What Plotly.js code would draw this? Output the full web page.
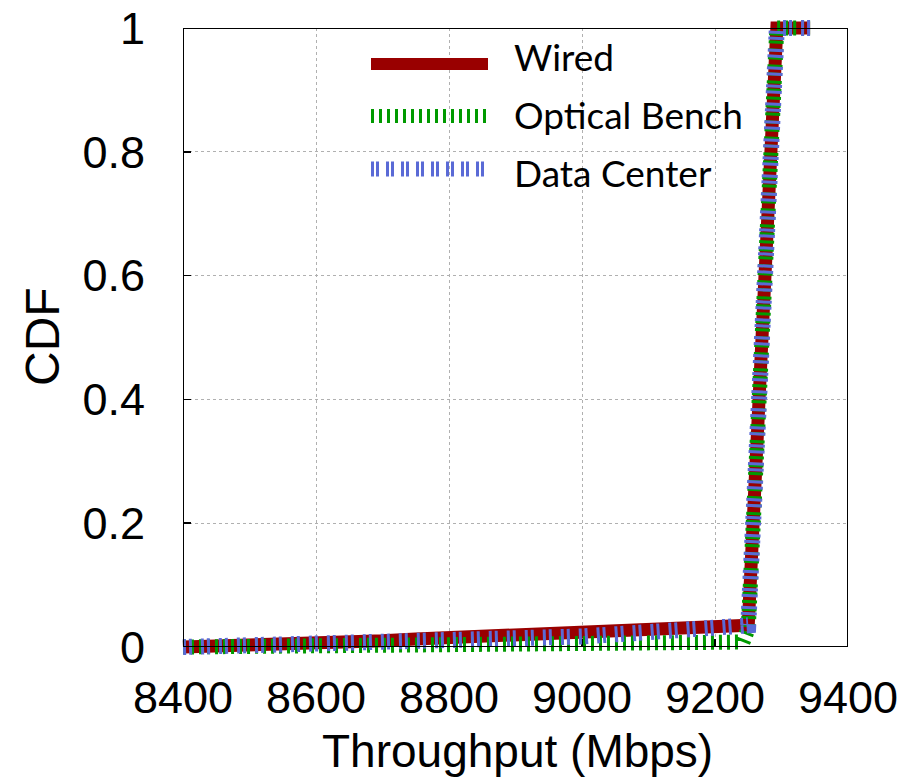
<!DOCTYPE html>
<html>
<head>
<meta charset="utf-8">
<script src="https://cdn.plot.ly/plotly-3.0.1.min.js"></script>
<style>html,body{margin:0;padding:0;background:#fff;}#chart{width:918px;height:781px;}</style>
</head>
<body>
<div id="chart"></div>
<script>
// ---- data ----
const seriesNames = ["Wired", "Optical Bench", "Data Center"];
const wiredX = [8400, 8500, 8600, 8650, 8700, 8750, 8800, 8850, 8900, 9000, 9100, 9200, 9245, 9250, 9293, 9343];
const wiredY = [0.000, 0.002, 0.004, 0.006, 0.010, 0.013, 0.015, 0.016, 0.018, 0.022, 0.025, 0.028, 0.030, 0.035, 1.000, 1.000];
const opticalX = [8400, 8600, 8800, 8900, 9000, 9100, 9200, 9242, 9250, 9293, 9343];
const opticalY = [0.000, 0.001, 0.002, 0.004, 0.005, 0.007, 0.008, 0.008, 0.030, 1.000, 1.000];
const dcX = [8400, 8500, 8600, 8700, 8800, 8900, 9000, 9100, 9200, 9245, 9250, 9293, 9345];
const dcY = [0.000, 0.002, 0.004, 0.006, 0.009, 0.012, 0.017, 0.024, 0.030, 0.032, 0.035, 1.000, 1.000];
const xTicks = [8400, 8600, 8800, 9000, 9200, 9400];
const yTicks = [0, 0.2, 0.4, 0.6, 0.8, 1];
const xTitle = "Throughput (Mbps)";
const yTitle = "CDF";

// ---- layout geometry ----
const W = 918, H = 781;
const L = 183, R = 848, T = 28, B = 647;
const PAD = 20;
const px = v => v / W;
const py = v => 1 - v / H;
const xMin = 8400, xMax = 9400, yMin = 0, yMax = 1;
const xPerPx = (xMax - xMin) / (R - L);
const yPerPx = (yMax - yMin) / (B - T);

const colors = ["#990000", "#009a00", "#5a6ad6"];
const fam = "'Liberation Sans', Arial, Helvetica, sans-serif";
const tickFont = {family: fam, size: 45, color: "#000"};
const xTitleFont = {family: fam, size: 46, color: "#000"};
const yTitleFont = {family: fam, size: 48, color: "#000"};
const legFont = {family: "Lato, 'Open Sans', sans-serif", size: 37, color: "#000"};

const traces = [
  {x: wiredX, y: wiredY, name: seriesNames[0], type: "scatter", mode: "lines",
   xaxis: "x2", yaxis: "y2", line: {color: colors[0], width: 13}},
  {x: opticalX, y: opticalY, name: seriesNames[1], type: "scatter", mode: "lines",
   xaxis: "x2", yaxis: "y2", line: {color: colors[1], width: 15, dash: "3px,5px"}},
  {x: dcX, y: dcY, name: seriesNames[2], type: "scatter", mode: "lines",
   xaxis: "x2", yaxis: "y2", line: {color: colors[2], width: 16, dash: "3px,3px,3px,9px"}}
];

const gridStyle = {showgrid: true, gridcolor: "#b0b0b0", griddash: "dot", gridwidth: 1};

const legRows = [64, 116, 169];
const legText = [57, 114, 172];
const legDash = ["solid", "3px,5px", "3px,2px,3px,7px"];
const legWidth = [12, 14, 15];

const shapes = [
  {type: "rect", xref: "paper", yref: "paper", x0: px(360), x1: px(508), y0: py(192), y1: py(38),
   fillcolor: "#fff", line: {width: 0}, layer: "between"}
];
legRows.forEach((r, i) => {
  shapes.push({type: "line", xref: "paper", yref: "paper", x0: px(371), x1: px(488), y0: py(r), y1: py(r),
    line: {color: colors[i], width: legWidth[i], dash: legDash[i]}, layer: "above"});
});
// frame
shapes.push({type: "rect", xref: "x", yref: "y", x0: xMin, x1: xMax, y0: yMin, y1: yMax,
  line: {color: "#000", width: 2}, fillcolor: "rgba(0,0,0,0)", layer: "above"});

const annotations = seriesNames.map((n, i) => ({
  text: n, xref: "paper", yref: "paper", x: px(512), y: py(legText[i]),
  xanchor: "left", yanchor: "middle", showarrow: false, font: legFont
}));
annotations.push({text: xTitle, xref: "paper", yref: "paper", x: px(517), y: py(751),
  xanchor: "center", yanchor: "middle", showarrow: false, font: xTitleFont});
annotations.push({text: yTitle, xref: "paper", yref: "paper", x: px(42), y: py(337),
  xanchor: "center", yanchor: "middle", showarrow: false, textangle: -90, font: yTitleFont});

const layout = {
  width: W, height: H,
  margin: {l: 0, r: 0, t: 0, b: 0, pad: 0},
  paper_bgcolor: "#fff", plot_bgcolor: "rgba(0,0,0,0)",
  showlegend: false,
  xaxis: Object.assign({
    domain: [px(L), px(R)], range: [xMin, xMax], anchor: "y",
    tickmode: "array", tickvals: xTicks, ticktext: xTicks.map(String),
    ticks: "inside", ticklen: 8, tickwidth: 1.5, tickcolor: "#000",
    showline: false, zeroline: false, tickfont: tickFont, ticklabelstandoff: 20,
    ticklabeloverflow: "allow", fixedrange: true
  }, gridStyle),
  yaxis: Object.assign({
    domain: [py(B), py(T)], range: [yMin, yMax], anchor: "x",
    tickmode: "array", tickvals: yTicks, ticktext: yTicks.map(String),
    ticks: "inside", ticklen: 8, tickwidth: 1.5, tickcolor: "#000",
    showline: false, zeroline: false, tickfont: tickFont, ticklabelstandoff: 37,
    ticklabeloverflow: "allow", fixedrange: true
  }, gridStyle),
  xaxis2: {domain: [px(L - PAD), px(R + PAD)], range: [xMin - PAD * xPerPx, xMax + PAD * xPerPx],
    anchor: "y2", visible: false, showgrid: false, zeroline: false, fixedrange: true},
  yaxis2: {domain: [py(B + PAD), py(T - PAD)], range: [yMin - PAD * yPerPx, yMax + PAD * yPerPx],
    anchor: "x2", visible: false, showgrid: false, zeroline: false, fixedrange: true},
  shapes: shapes,
  annotations: annotations
};

Plotly.newPlot("chart", traces, layout, {staticPlot: true, displayModeBar: false});
</script>
</body>
</html>
